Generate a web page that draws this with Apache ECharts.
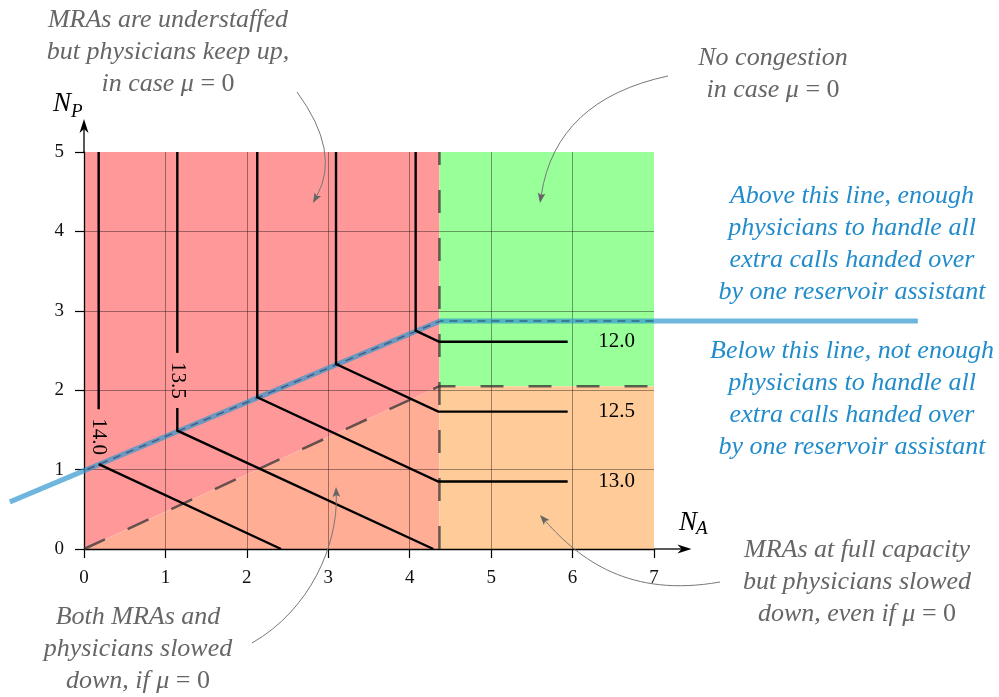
<!DOCTYPE html>
<html><head><meta charset="utf-8">
<script src="https://cdn.jsdelivr.net/npm/echarts@6/dist/echarts.min.js"></script>
<style>html,body{margin:0;padding:0;background:#fff}#c{width:999px;height:697px}</style>
</head><body><div id="c"></div>
<script>
// ---------- data ----------
const xTickLabels = ['0','1','2','3','4','5','6','7'];
const yTickLabels = ['0','1','2','3','4','5'];

// regions: MRAs understaffed / both slowed / no congestion / MRAs at full capacity
const regionUnderstaffed = [[0,0],[4.365,2.05],[4.365,5],[0,5]];
const regionBothSlowed   = [[0,0],[4.365,0],[4.365,2.05]];
const regionNoCongestion = [[4.365,2.05],[7,2.05],[7,5],[4.365,5]];
const regionFullCapacity = [[4.365,0],[7,0],[7,2.05],[4.365,2.05]];

// dashed region boundaries
const boundaryPhysicians = [[0,0],[4.365,2.05],[7,2.05]];
const boundaryMRAs = [[4.365,0],[4.365,5]];

// "one reservoir assistant" line
const reservoirLine = [[-0.91,0.594],[4.372,2.87],[10.24,2.87]];

// contour lines
const contourValues = ['14.0','13.5','13.0','12.5','12.0'];
const contour140 = [[0.18,5],[0.18,1.07],[2.42,0]];
const contour135 = [[1.146,5],[1.146,1.49],[4.29,0]];
const contour130 = [[2.128,5],[2.128,1.91],[4.35,0.85],[5.94,0.85]];
const contour125 = [[3.095,5],[3.095,2.33],[4.35,1.73],[5.94,1.73]];
const contour120 = [[4.073,5],[4.073,2.75],[4.363,2.61],[5.94,2.61]];
// inline label gaps (N_P range on the vertical part), null = label at the right end
const contourLabelGaps = [[1.07,1.76],[1.775,2.47],null,null,null];

// ---------- styles ----------
const regions = [regionUnderstaffed, regionBothSlowed, regionNoCongestion, regionFullCapacity];
const regionColors = ['#ff9999','#ffad95','#99ff99','#ffcc99'];
const contours = [contour140, contour135, contour130, contour125, contour120];
const SERIF = '"Liberation Serif", "DejaVu Serif", serif';

const chart = echarts.init(document.getElementById('c'), null, {renderer:'canvas'});

function renderRegion(params, api){
  const pts = regions[params.dataIndex].map(p => api.coord(p));
  return {type:'polygon', shape:{points:pts}, style:{fill:regionColors[params.dataIndex]}};
}
function renderReservoir(params, api){
  const pts = reservoirLine.map(p => api.coord(p));
  return {type:'polyline', shape:{points:pts}, style:{stroke:'rgba(49,151,206,0.7)', lineWidth:5, fill:null, lineJoin:'miter'}};
}
function renderContour(params, api){
  const i = params.dataIndex;
  const path = contours[i];
  const pts = path.map(p => api.coord(p));
  const st = {stroke:'#000', lineWidth:2.4, fill:null, lineJoin:'miter'};
  const children = [];
  const gap = contourLabelGaps[i];
  const tStyle = {text:contourValues[i], font:'21px ' + SERIF, fill:'#000', align:'center', verticalAlign:'middle'};
  if (gap){
    const x = path[0][0];
    const hi = api.coord([x, gap[1]]), lo = api.coord([x, gap[0]]);
    children.push({type:'polyline', shape:{points:[pts[0], hi]}, style:st});
    children.push({type:'polyline', shape:{points:[lo].concat(pts.slice(1))}, style:st});
    children.push({type:'text', x:hi[0], y:(hi[1]+lo[1])/2, rotation:-Math.PI/2, style:tStyle});
  } else {
    children.push({type:'polyline', shape:{points:pts}, style:st});
    const end = pts[pts.length-1];
    children.push({type:'text', x:end[0]+49, y:end[1], style:tStyle});
  }
  return {type:'group', children};
}

const option = {
  animation:false,
  textStyle:{fontFamily:SERIF},
  grid:{left:84, top:152, width:570, height:397, outerBoundsMode:'none', containLabel:false},
  xAxis:{type:'value', min:0, max:7, interval:1,
    axisLine:{show:true, onZero:false, lineStyle:{color:'#000', width:1.3}},
    axisTick:{show:true, inside:false, length:9, lineStyle:{color:'#000', width:1.2}},
    axisLabel:{show:true, margin:20, color:'#111', fontSize:19, fontFamily:SERIF, formatter:v => xTickLabels[v] ?? ''},
    splitLine:{show:true, showMinLine:false, showMaxLine:false, lineStyle:{color:'rgba(0,0,0,0.38)', width:1}}
  },
  yAxis:{type:'value', min:0, max:5, interval:1,
    axisLine:{show:true, onZero:false, lineStyle:{color:'#000', width:1.3}},
    axisTick:{show:true, inside:false, length:9, lineStyle:{color:'#000', width:1.2}},
    axisLabel:{show:true, margin:20, color:'#111', fontSize:19, fontFamily:SERIF, formatter:v => yTickLabels[v] ?? ''},
    splitLine:{show:true, showMinLine:false, showMaxLine:false, lineStyle:{color:'rgba(0,0,0,0.38)', width:1}}
  },
  series:[
    {type:'custom', z:-1, silent:true, renderItem:renderRegion,
     data: regions.map(r => r[0])},
    {type:'custom', z:3, silent:true, clip:false, renderItem:renderReservoir,
     data:[reservoirLine[1]]},
    {type:'line', z:3, silent:true, clip:true, symbol:'none', data:reservoirLine,
     lineStyle:{color:'rgba(25,45,85,0.55)', width:1.5, type:[8,6]}},
    {type:'line', z:4, silent:true, symbol:'none', data:boundaryPhysicians,
     lineStyle:{color:'rgba(50,50,50,0.75)', width:2.5, type:[23,25]}},
    {type:'line', z:4, silent:true, symbol:'none', data:boundaryMRAs,
     lineStyle:{color:'rgba(50,50,50,0.75)', width:2.5, type:[23,25]}},
    {type:'custom', z:5, silent:true, renderItem:renderContour,
     data: contours.map(c => c[0])}
  ]
};
chart.setOption(option);

// ---------- decorations: axis arrows, axis names, annotations ----------
const c = p => chart.convertToPixel({gridIndex:0}, p);
function head(tip, from, L, W, notch, color){
  let dx = tip[0]-from[0], dy = tip[1]-from[1];
  const n = Math.hypot(dx,dy); dx/=n; dy/=n;
  const px=-dy, py=dx;
  const bx = tip[0]-dx*L, by = tip[1]-dy*L;
  const nx = tip[0]-dx*(L-notch), ny = tip[1]-dy*(L-notch);
  return {type:'polygon', silent:true, z:10,
    shape:{points:[tip,[bx+px*W,by+py*W],[nx,ny],[bx-px*W,by-py*W]]}, style:{fill:color}};
}
const g = [];
// axis extensions
const xEnd = c([7,0]), xTip = c([7.46,0]);
g.push({type:'line', silent:true, z:10, shape:{x1:xEnd[0], y1:xEnd[1], x2:xTip[0]-8, y2:xTip[1]}, style:{stroke:'#000', lineWidth:1.3}});
g.push(head(xTip, xEnd, 14, 4.5, 4, '#000'));
const yEnd = c([0,5]), yTip = c([0,5.415]);
g.push({type:'line', silent:true, z:10, shape:{x1:yEnd[0], y1:yEnd[1], x2:yTip[0], y2:yTip[1]+8}, style:{stroke:'#000', lineWidth:1.3}});
g.push(head(yTip, yEnd, 14, 4.5, 4, '#000'));
// axis names
function tx(x,y,text,font,color,align,valign,extra){
  return Object.assign({type:'text', silent:true, z:10, x, y,
    style:{text, font, fill:color, align:align||'left', verticalAlign:valign||'bottom'}}, extra||{});
}
g.push(tx(53,117,'N','italic 27px '+SERIF,'#000'));
g.push(tx(71,121,'P','italic 19px '+SERIF,'#000'));
g.push(tx(679,536,'N','italic 27px '+SERIF,'#000'));
g.push(tx(696,538,'A','italic 19px '+SERIF,'#000'));

// annotations
const GRAY = '#666', BLUE = '#228ccb';
function note(x,y,text,color){
  return {type:'text', silent:true, z:10, x, y, style:{
    text, fill:color, font:'italic 26px '+SERIF, align:'center', verticalAlign:'middle', lineHeight:32,
    rich:{n:{font:'26px '+SERIF, fill:color, lineHeight:32}}}};
}
g.push(note(168,52,'MRAs are understaffed\nbut physicians keep up,\nin case μ {n|= 0}',GRAY));
g.push(note(773,74,'No congestion\nin case μ {n|= 0}',GRAY));
g.push(note(852,244,'Above this line, enough\nphysicians to handle all\nextra calls handed over\nby one reservoir assistant',BLUE));
g.push(note(852,399,'Below this line, not enough\nphysicians to handle all\nextra calls handed over\nby one reservoir assistant',BLUE));
g.push(note(138,649,'Both MRAs and\nphysicians slowed\ndown, if μ {n|= 0}',GRAY));
g.push(note(857,582,'MRAs at full capacity\nbut physicians slowed\ndown, even if μ {n|= 0}',GRAY));

// curved arrows
function arrow(p0, c1, c2, p3){
  const last = c2 || c1;
  const L = 10, notch = 2;
  let dx = p3[0]-last[0], dy = p3[1]-last[1]; const n = Math.hypot(dx,dy); dx/=n; dy/=n;
  const end = [p3[0]-dx*(L-notch), p3[1]-dy*(L-notch)];
  const shape = {x1:p0[0], y1:p0[1], x2:end[0], y2:end[1], cpx1:c1[0], cpy1:c1[1]};
  if (c2){ shape.cpx2 = c2[0]; shape.cpy2 = c2[1]; }
  g.push({type:'bezierCurve', silent:true, z:10, shape, style:{stroke:'#777', lineWidth:1, fill:null}});
  g.push(head(p3, last, L, 3.8, notch, '#666'));
}
arrow([297,92],[341,152],null,[313,203]);
arrow([668,76],[556,100],null,[540,203]);
arrow([252,643],[310,610],[338,545],[336,487]);
arrow([720,582],[630,598],[580,560],[540,515]);

chart.setOption({graphic:g});
</script></body></html>
